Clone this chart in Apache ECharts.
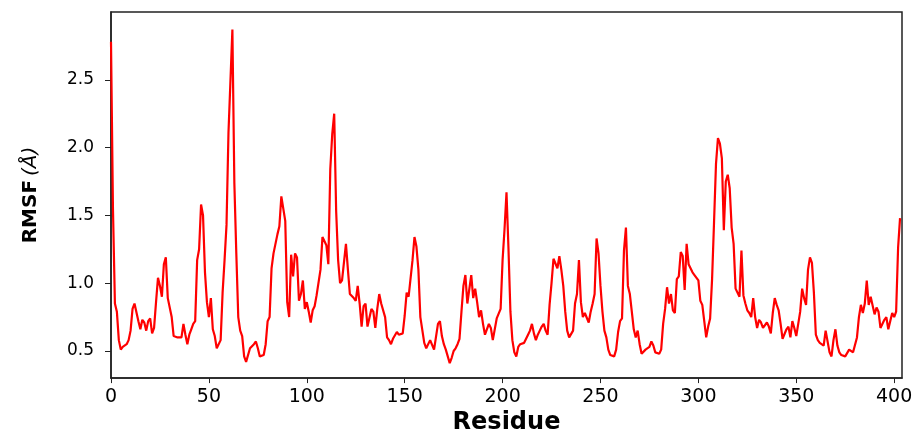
<!DOCTYPE html>
<html>
<head>
<meta charset="utf-8">
<script src="https://cdn.jsdelivr.net/npm/echarts@6/dist/echarts.min.js"></script>
<style>
  html, body { margin: 0; padding: 0; background: #fff; }
  #chart { width: 921px; height: 440px; }
</style>
</head>
<body>
<div id="chart"></div>
<script>
// RMSF per residue (Å)
const rmsf = [
  2.78, 1.55, 0.85, 0.79, 0.58, 0.51, 0.53, 0.54, 0.55, 0.58,
  0.65, 0.81, 0.85, 0.86, 0.72, 0.66, 0.73, 0.71, 0.65, 0.72,
  0.74, 0.63, 0.67, 0.86, 1.04, 0.98, 0.90, 1.14, 1.19, 0.89,
  0.89, 0.75, 0.61, 0.60, 0.60, 0.61, 0.60, 0.70, 0.62, 0.55,
  0.62, 0.66, 0.70, 0.72, 1.17, 1.25, 1.58, 1.50, 1.08, 0.86,
  0.75, 0.89, 0.66, 0.61, 0.52, 0.51, 0.58, 0.93, 1.17, 1.43,
  2.11, 2.12, 2.87, 1.74, 1.22, 0.75, 0.65, 0.61, 0.46, 0.42,
  0.43, 0.52, 0.51, 0.55, 0.57, 0.52, 0.46, 0.45, 0.47, 0.55,
  0.72, 0.75, 1.11, 1.22, 1.22, 1.36, 1.42, 1.64, 1.65, 1.46,
  0.86, 0.75, 1.21, 1.05, 1.22, 1.19, 0.87, 0.92, 1.02, 0.81,
  0.86, 0.79, 0.71, 0.80, 0.83, 0.91, 0.92, 1.10, 1.34, 1.33,
  1.28, 1.14, 1.84, 2.10, 2.25, 1.53, 1.17, 1.00, 1.02, 1.01,
  1.29, 1.10, 0.92, 0.92, 0.89, 0.87, 0.98, 0.85, 0.68, 0.83,
  0.85, 0.68, 0.67, 0.81, 0.79, 0.67, 0.81, 0.92, 0.85, 0.84,
  0.75, 0.60, 0.58, 0.55, 0.59, 0.58, 0.64, 0.62, 0.62, 0.63,
  0.76, 0.93, 0.90, 0.90, 1.17, 1.34, 1.27, 1.10, 0.75, 0.74,
  0.56, 0.52, 0.51, 0.58, 0.57, 0.51, 0.51, 0.70, 0.72, 0.61,
  0.55, 0.51, 0.46, 0.41, 0.45, 0.50, 0.52, 0.55, 0.59, 0.79,
  0.98, 1.06, 0.85, 0.86, 1.06, 0.89, 0.96, 0.86, 0.75, 0.80,
  0.70, 0.62, 0.63, 0.70, 0.67, 0.58, 0.59, 0.74, 0.73, 0.81,
  1.17, 1.40, 1.67, 1.26, 0.79, 0.58, 0.49, 0.46, 0.53, 0.55,
  0.56, 0.56, 0.55, 0.62, 0.65, 0.70, 0.63, 0.58, 0.62, 0.65,
  0.68, 0.70, 0.65, 0.62, 0.84, 1.00, 1.18, 1.19, 1.11, 1.20,
  1.10, 0.98, 0.79, 0.65, 0.60, 0.60, 0.65, 0.85, 0.92, 1.17,
  0.86, 0.75, 0.78, 0.77, 0.71, 0.79, 0.85, 0.92, 1.33, 1.22,
  0.98, 0.79, 0.65, 0.60, 0.51, 0.47, 0.46, 0.46, 0.51, 0.64,
  0.72, 0.74, 1.24, 1.41, 0.98, 0.92, 0.79, 0.66, 0.60, 0.65,
  0.55, 0.48, 0.47, 0.51, 0.51, 0.53, 0.57, 0.54, 0.49, 0.50,
  0.48, 0.51, 0.70, 0.81, 0.97, 0.85, 0.92, 0.80, 0.78, 1.03,
  1.05, 1.23, 1.20, 0.95, 1.29, 1.14, 1.13, 1.08, 1.06, 1.05,
  1.02, 0.87, 0.84, 0.72, 0.60, 0.68, 0.74, 1.03, 1.45, 1.88,
  2.07, 2.03, 1.92, 1.39, 1.75, 1.80, 1.70, 1.41, 1.29, 0.96,
  0.95, 0.90, 1.24, 0.91, 0.85, 0.80, 0.78, 0.75, 0.89, 0.75,
  0.67, 0.73, 0.71, 0.67, 0.67, 0.71, 0.68, 0.63, 0.78, 0.89,
  0.84, 0.80, 0.70, 0.59, 0.60, 0.66, 0.68, 0.60, 0.72, 0.67,
  0.61, 0.62, 0.79, 0.96, 0.89, 0.84, 1.10, 1.19, 1.15, 0.93,
  0.62, 0.58, 0.56, 0.55, 0.54, 0.65, 0.66, 0.49, 0.46, 0.58,
  0.66, 0.54, 0.49, 0.47, 0.47, 0.46, 0.45, 0.51, 0.52, 0.49,
  0.50, 0.60, 0.75, 0.84, 0.78, 0.85, 1.02, 0.84, 0.90, 0.89,
  0.77, 0.82, 0.79, 0.67, 0.67, 0.73, 0.75, 0.66, 0.67, 0.78,
  0.75, 0.79, 1.26, 1.48
]

const xTicks = [0, 50, 100, 150, 200, 250, 300, 350, 400]
const yTicks = [0.5, 1.0, 1.5, 2.0, 2.5]

const axisColor = '#222'

const chart = echarts.init(document.getElementById('chart'))

chart.setOption({
  animation: false,
  backgroundColor: '#fff',
  textStyle: { fontFamily: '"DejaVu Sans", sans-serif', color: '#000' },
  grid: {
    left: 111, right: 19, top: 12, bottom: 51,
    show: true, borderColor: axisColor, borderWidth: 1.5,
  },
  xAxis: {
    type: 'value',
    min: 0,
    max: 404,
    name: 'Residue',
    nameLocation: 'middle',
    nameGap: 29,
    nameTextStyle: { fontSize: 24, fontWeight: 'bold', color: '#000' },
    axisLine: { show: true, lineStyle: { color: axisColor, width: 1.5 } },
    axisTick: { show: true, length: 5, customValues: xTicks, lineStyle: { color: axisColor } },
    axisLabel: { customValues: xTicks, fontSize: 19, margin: 9, color: '#000' },
    splitLine: { show: false },
  },
  yAxis: {
    type: 'value',
    min: 0.3,
    max: 3.0,
    name: '{b|RMSF} {i|(Å)}',
    nameLocation: 'middle',
    nameGap: 70,
    nameTextStyle: {
      rich: {
        b: { fontSize: 20, fontWeight: 'bold', color: '#000' },
        i: { fontSize: 20, fontStyle: 'italic', color: '#000' },
      },
    },
    axisLine: { show: true, lineStyle: { color: axisColor, width: 1.5 } },
    axisTick: { show: true, length: 6, customValues: yTicks, lineStyle: { color: axisColor } },
    axisLabel: {
      customValues: yTicks,
      fontSize: 17,
      margin: 17,
      color: '#000',
      formatter: (v) => v.toFixed(1),
    },
    splitLine: { show: false },
  },
  series: [
    {
      type: 'line',
      showSymbol: false,
      lineStyle: { color: '#ff0000', width: 2.2 },
      data: rmsf.map((v, i) => [i, v]),
    },
  ],
})
</script>
</body>
</html>
